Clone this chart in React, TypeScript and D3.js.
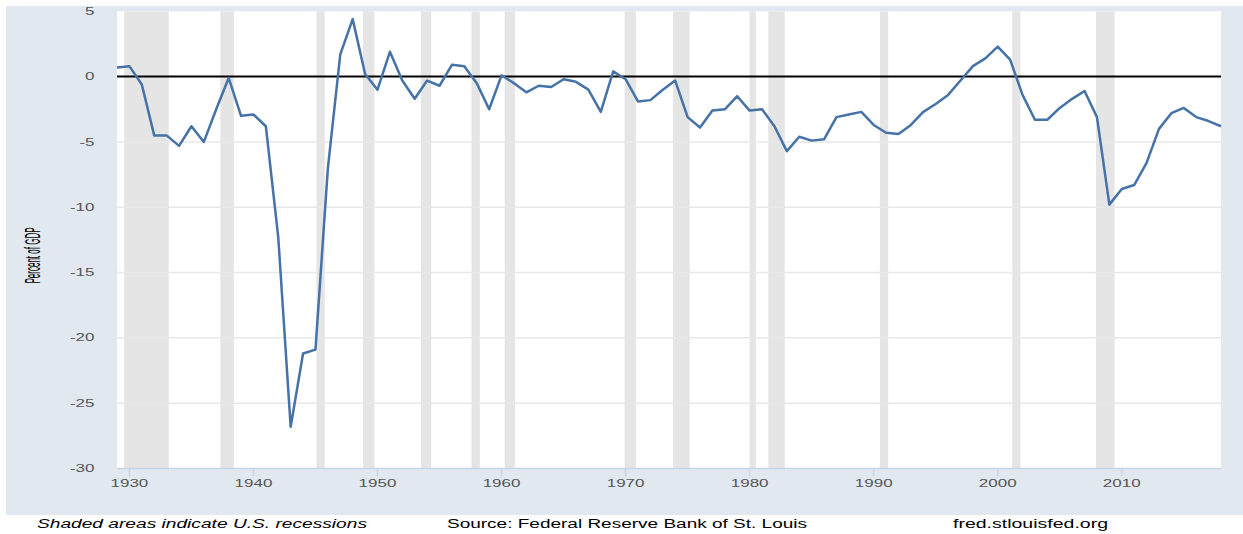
import * as d3 from "d3";

// Federal surplus or deficit, percent of GDP (annual)
const years = [
  1929, 1930, 1931, 1932, 1933, 1934, 1935, 1936, 1937, 1938, 1939,
  1940, 1941, 1942, 1943, 1944, 1945, 1946, 1947, 1948, 1949,
  1950, 1951, 1952, 1953, 1954, 1955, 1956, 1957, 1958, 1959,
  1960, 1961, 1962, 1963, 1964, 1965, 1966, 1967, 1968, 1969,
  1970, 1971, 1972, 1973, 1974, 1975, 1976, 1977, 1978, 1979,
  1980, 1981, 1982, 1983, 1984, 1985, 1986, 1987, 1988, 1989,
  1990, 1991, 1992, 1993, 1994, 1995, 1996, 1997, 1998, 1999,
  2000, 2001, 2002, 2003, 2004, 2005, 2006, 2007, 2008, 2009,
  2010, 2011, 2012, 2013, 2014, 2015, 2016, 2017, 2018,
];

const surplus = [
  0.7, 0.8, -0.6, -4.5, -4.5, -5.3, -3.8, -5.0, -2.5, -0.1, -3.0,
  -2.9, -3.8, -12.3, -26.8, -21.2, -20.9, -7.0, 1.7, 4.4, 0.2,
  -1.0, 1.9, -0.3, -1.7, -0.3, -0.7, 0.9, 0.8, -0.5, -2.5,
  0.1, -0.5, -1.2, -0.7, -0.8, -0.2, -0.4, -1.0, -2.7, 0.4,
  -0.2, -1.9, -1.8, -1.0, -0.3, -3.1, -3.9, -2.6, -2.5, -1.5,
  -2.6, -2.5, -3.8, -5.7, -4.6, -4.9, -4.8, -3.1, -2.9, -2.7,
  -3.7, -4.3, -4.4, -3.7, -2.7, -2.1, -1.4, -0.3, 0.8, 1.4,
  2.3, 1.3, -1.4, -3.3, -3.3, -2.4, -1.7, -1.1, -3.1, -9.8,
  -8.6, -8.3, -6.6, -4.0, -2.8, -2.4, -3.1, -3.4, -3.8,
];

// NBER recessions as fractional years [start, end]
const recessions = [
  [1929.58, 1933.17], [1937.33, 1938.42], [1945.08, 1945.75], [1948.83, 1949.75],
  [1953.5, 1954.33], [1957.58, 1958.25], [1960.25, 1961.08], [1969.92, 1970.83],
  [1973.83, 1975.17], [1980.0, 1980.5], [1981.5, 1982.83], [1990.5, 1991.17],
  [2001.17, 2001.83], [2007.92, 2009.42],
];

const yTicks = [5, 0, -5, -10, -15, -20, -25, -30];
const xTicks = [1930, 1940, 1950, 1960, 1970, 1980, 1990, 2000, 2010];

const W = 1243;
const H = 534;
const plot = { left: 117, right: 1221, top: 11.3, bottom: 468.5 };
const sx = 1.7; // the source picture is stretched sideways

export default function App() {
  const x = d3.scaleLinear().domain([1929, 2018]).range([plot.left, plot.right]);
  const y = d3.scaleLinear().domain([-30, 5]).range([plot.bottom, plot.top]);

  const line = d3
    .line<number>()
    .x((_, i) => x(years[i]))
    .y((d) => y(d));

  const font = "'Liberation Sans', Arial, sans-serif";

  return (
    <svg
      width={W}
      height={H}
      style={{ position: "absolute", left: 0, top: 0, background: "#fff" }}
      fontFamily={font}
    >
      <rect x={6} y={6} width={W - 6} height={509} fill="#e1e8f0" />
      <rect
        x={plot.left}
        y={plot.top}
        width={plot.right - plot.left}
        height={plot.bottom - plot.top}
        fill="#fff"
      />

      {recessions.map(([a, b], i) => (
        <rect
          key={i}
          x={Math.max(x(a), plot.left)}
          y={plot.top}
          width={x(b) - Math.max(x(a), plot.left)}
          height={plot.bottom - plot.top}
          fill="#e5e5e5"
        />
      ))}

      {yTicks
        .filter((t) => t !== 5 && t !== -30 && t !== 0)
        .map((t) => (
          <line
            key={t}
            x1={plot.left}
            x2={plot.right}
            y1={y(t)}
            y2={y(t)}
            stroke="#e8e8e8"
            strokeWidth={1.5}
          />
        ))}

      {/* x axis */}
      <line x1={plot.left} x2={plot.right} y1={plot.bottom} y2={plot.bottom} stroke="#c8d5e3" strokeWidth={1.5} />
      {xTicks.map((t) => (
        <g key={t}>
          <line x1={x(t)} x2={x(t)} y1={plot.bottom} y2={plot.bottom + 8} stroke="#c8d5e3" strokeWidth={1.5} />
          <text
            transform={`translate(${x(t)},487) scale(${sx},1)`}
            textAnchor="middle"
            fontSize={10}
            fill="#555"
          >
            {t}
          </text>
        </g>
      ))}

      {/* y axis labels */}
      {yTicks.map((t) => (
        <text
          key={t}
          transform={`translate(94.5,${y(t) + 3.6}) scale(${sx},1)`}
          textAnchor="end"
          fontSize={10}
          fill="#555"
        >
          {t}
        </text>
      ))}

      <text
        transform={`translate(40,255.5) scale(1.75,1) rotate(-90)`}
        textAnchor="middle"
        fontSize={13}
        fill="#000"
        textLength={56}
        lengthAdjust="spacingAndGlyphs"
      >
        Percent of GDP
      </text>

      {/* zero line */}
      <line x1={plot.left} x2={plot.right} y1={y(0)} y2={y(0)} stroke="#000" strokeWidth={2} />

      <path d={line(surplus) ?? ""} fill="none" stroke="#4572a7" strokeWidth={2.5} strokeLinejoin="round" />

      <text x={37} y={528} fontSize={12} fontStyle="italic" textLength={330} lengthAdjust="spacingAndGlyphs">
        Shaded areas indicate U.S. recessions
      </text>
      <text x={447} y={528} fontSize={12} textLength={360} lengthAdjust="spacingAndGlyphs">
        Source: Federal Reserve Bank of St. Louis
      </text>
      <text x={953} y={528} fontSize={12} textLength={155} lengthAdjust="spacingAndGlyphs">
        fred.stlouisfed.org
      </text>
    </svg>
  );
}
